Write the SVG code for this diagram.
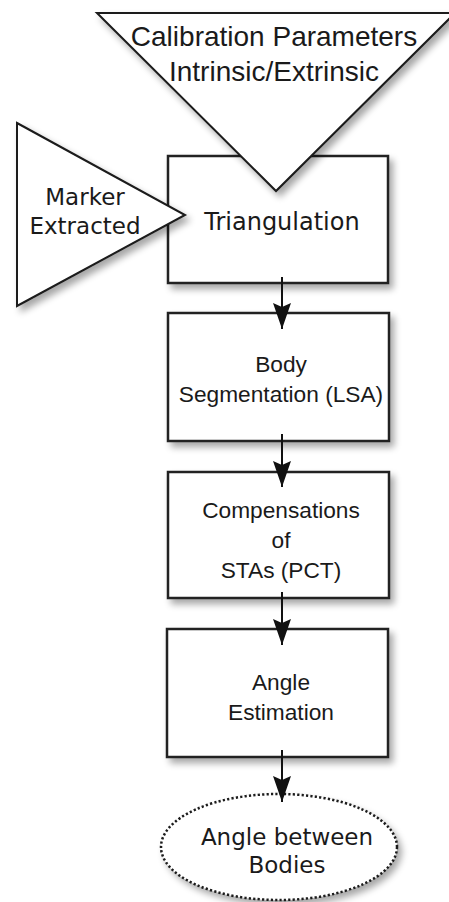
<svg xmlns="http://www.w3.org/2000/svg" width="449" height="902" viewBox="0 0 449 902">
  <defs>
    <filter id="shadow" x="-20%" y="-20%" width="140%" height="140%">
      <feGaussianBlur in="SourceAlpha" stdDeviation="3.5"/>
      <feOffset dx="4" dy="5" result="blur"/>
      <feComponentTransfer><feFuncA type="linear" slope="0.35"/></feComponentTransfer>
      <feMerge><feMergeNode/><feMergeNode in="SourceGraphic"/></feMerge>
    </filter>
    <marker id="arrow" viewBox="0 0 26 18" refX="26" refY="9" markerWidth="26" markerHeight="18" markerUnits="userSpaceOnUse" orient="auto">
      <path d="M0,0 L4,9 L0,18 L26,9 Z" fill="#111"/>
    </marker>
  </defs>
  <style>
    .box { fill: #fff; stroke: #222; stroke-width: 2.5; }
    .tri { fill: #fff; stroke: #1a1a1a; stroke-width: 2; stroke-linejoin: miter; }
    .sans { font-family: "Liberation Sans", Arial, sans-serif; font-size: 22.7px; fill: #1a1a1a; text-anchor: middle; }
    .big { font-size: 28px; }
    .dv { font-family: "DejaVu Sans", sans-serif; font-size: 23px; fill: #1a1a1a; text-anchor: middle; }
    .dv24 { font-size: 24px; }
    .conn { stroke: #111; stroke-width: 2; fill: none; }
  </style>
  <rect width="449" height="902" fill="#fff"/>

  <g id="triangulation">
    <rect class="box" x="168" y="156" width="220" height="127" filter="url(#shadow)"/>
    <text class="dv dv24" x="282" y="230">Triangulation</text>
  </g>

  <g id="calibration">
    <polygon class="tri" points="97,13 455,13 276,191" filter="url(#shadow)"/>
    <text class="sans big" x="274" y="46">Calibration Parameters</text>
    <text class="sans big" x="274" y="81">Intrinsic/Extrinsic</text>
  </g>

  <g id="marker">
    <polygon class="tri" points="17,123 185,215 17,306" filter="url(#shadow)"/>
    <text class="dv" x="85" y="205">Marker</text>
    <text class="dv" x="85" y="234">Extracted</text>
  </g>

  <g id="segmentation">
    <rect class="box" x="168" y="313" width="221" height="128" filter="url(#shadow)"/>
    <text class="sans" x="281" y="372">Body</text>
    <text class="sans" x="281" y="402">Segmentation (LSA)</text>
  </g>

  <g id="compensation">
    <rect class="box" x="168" y="472" width="221" height="126" filter="url(#shadow)"/>
    <text class="sans" x="281" y="518">Compensations</text>
    <text class="sans" x="281" y="548">of</text>
    <text class="sans" x="281" y="578">STAs (PCT)</text>
  </g>

  <g id="estimation">
    <rect class="box" x="167" y="629" width="221" height="128" filter="url(#shadow)"/>
    <text class="sans" x="281" y="690">Angle</text>
    <text class="sans" x="281" y="720">Estimation</text>
  </g>

  <g id="result">
    <ellipse cx="279" cy="847" rx="118" ry="53" fill="#fff" stroke="#1a1a1a" stroke-width="2.5" stroke-dasharray="2.2 2.2" filter="url(#shadow)"/>
    <text class="dv" x="287" y="845">Angle between</text>
    <text class="dv" x="287" y="873">Bodies</text>
  </g>

  <g id="connectors">
    <line class="conn" x1="282" y1="277" x2="282" y2="329" marker-end="url(#arrow)"/>
    <line class="conn" x1="282" y1="434" x2="282" y2="487" marker-end="url(#arrow)"/>
    <line class="conn" x1="282" y1="592" x2="282" y2="645" marker-end="url(#arrow)"/>
    <line class="conn" x1="282" y1="750" x2="282" y2="802" marker-end="url(#arrow)"/>
  </g>
</svg>
